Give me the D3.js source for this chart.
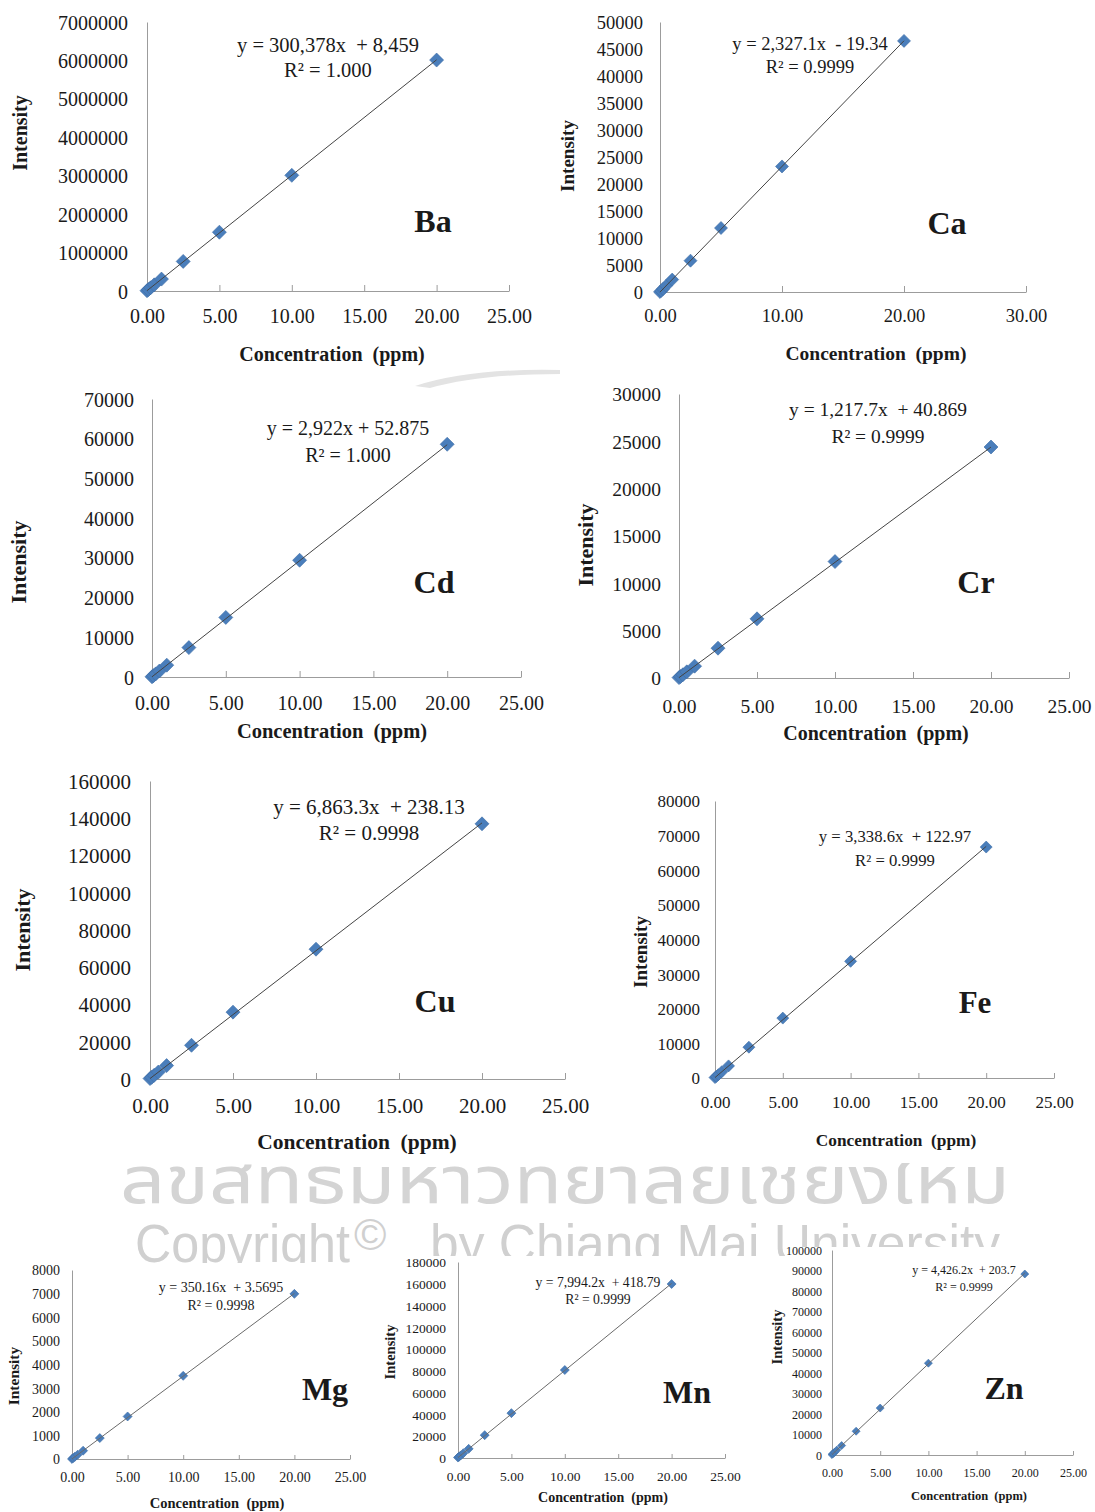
<!DOCTYPE html>
<html><head><meta charset="utf-8">
<script src="https://cdn.jsdelivr.net/npm/d3@7"></script>
<style>
body{margin:0;background:#fff}
svg{display:block}
.chart text{font-family:"Liberation Serif","Times New Roman",serif;fill:#1a1a1a}
</style>
</head><body>
<svg id="c" width="1095" height="1512"></svg>
<script>
// ---------- data ----------
const elements = ["Ba","Ca","Cd","Cr","Cu","Fe","Mg","Mn","Zn"];
const concentrations = [0, 0.1, 0.25, 0.5, 1, 2.5, 5, 10, 20];
const intensityBa = [8000, 38000, 84000, 160000, 310000, 770000, 1530000, 3010000, 6010000];
const intensityCa = [0, 220, 560, 1150, 2300, 5800, 11850, 23250, 46500];
const intensityCd = [50, 340, 780, 1500, 2980, 7400, 15000, 29400, 58600];
const intensityCr = [40, 160, 340, 650, 1250, 3150, 6250, 12300, 24400];
const intensityCu = [240, 900, 1950, 3700, 7200, 18100, 35900, 69700, 137000];
const intensityFe = [120, 450, 960, 1800, 3500, 8900, 17300, 33700, 66700];
const intensityMg = [3, 38, 90, 178, 352, 885, 1800, 3520, 6990];
const intensityMn = [420, 1200, 2400, 4400, 8400, 21000, 41200, 80800, 159800];
const intensityZn = [200, 650, 1300, 2400, 4600, 11600, 22900, 44800, 88300];
const intensities = [intensityBa, intensityCa, intensityCd, intensityCr, intensityCu, intensityFe, intensityMg, intensityMn, intensityZn];
const slopes = [300378, 2327.1, 2922, 1217.7, 6863.3, 3338.6, 350.16, 7994.2, 4426.2];
const intercepts = [8459, -19.34, 52.875, 40.869, 238.13, 122.97, 3.5695, 418.79, 203.7];
const equationLabels = ["y = 300,378x  + 8,459", "y = 2,327.1x  - 19.34", "y = 2,922x + 52.875", "y = 1,217.7x  + 40.869",
  "y = 6,863.3x  + 238.13", "y = 3,338.6x  + 122.97", "y = 350.16x  + 3.5695", "y = 7,994.2x  + 418.79", "y = 4,426.2x  + 203.7"];
const r2Labels = ["R² = 1.000", "R² = 0.9999", "R² = 1.000", "R² = 0.9999", "R² = 0.9998", "R² = 0.9999", "R² = 0.9998", "R² = 0.9999", "R² = 0.9999"];
const yMaxes = [7000000, 50000, 70000, 30000, 160000, 80000, 8000, 180000, 100000];
const yTickSteps = [1000000, 5000, 10000, 5000, 20000, 10000, 1000, 20000, 10000];
const xMaxes = [25, 30, 25, 25, 25, 25, 25, 25, 25];
const xTickSteps = [5, 10, 5, 5, 5, 5, 5, 5, 5];
const fitXEnd = 20;
const xTitle = "Concentration  (ppm)";
const yTitle = "Intensity";
const watermarkThai = "ลิขสิทธิ์มหาวิทยาลัยเชียงใหม่";
const watermarkEn1 = "Copyright";
const watermarkEn2 = "©";
const watermarkEn3 = "by Chiang Mai University";

// ---------- layout (pixels / styles) ----------
const layout = [
 {ax:147, ax1:509, yTop:22,   yBot:291,  tick:20,   title:20,   ytf:20,   eq:20.5, lab:32, ms:14, tx:25, ty:19, xt:[332,354],  yt:[20,133],  eqp:[328,45,70],    lp:[433,221],  tk:6},
 {ax:660, ax1:1026,yTop:22,   yBot:292,  tick:18.5, title:19.5, ytf:19,   eq:18.5, lab:32, ms:13, tx:24, ty:17, xt:[876,353],  yt:[567,156], eqp:[810,44,67],    lp:[947,223],  tk:6},
 {ax:152, ax1:521, yTop:399,  yBot:677,  tick:20,   title:20.5, ytf:22,   eq:20,   lab:32, ms:14, tx:26, ty:18, xt:[332,731],  yt:[18,562],  eqp:[348,428,455],  lp:[434,582],  tk:6},
 {ax:679, ax1:1069,yTop:394,  yBot:678,  tick:19.5, title:20,   ytf:22,   eq:19.5, lab:32, ms:14, tx:28, ty:18, xt:[876,733],  yt:[585,545], eqp:[878,409,436],  lp:[976,582],  tk:6},
 {ax:150, ax1:565, yTop:781,  yBot:1079, tick:21,   title:21.5, ytf:22,   eq:21,   lab:32, ms:14, tx:27, ty:19, xt:[357,1141], yt:[22,930],  eqp:[369,807,833],  lp:[435,1001], tk:6},
 {ax:715, ax1:1054,yTop:801,  yBot:1078, tick:17,   title:17.3, ytf:19,   eq:16.7, lab:31, ms:12, tx:24, ty:15, xt:[896,1140], yt:[640,952], eqp:[895,836,860],  lp:[975,1002], tk:5},
 {ax:72,  ax1:350, yTop:1270, yBot:1459, tick:14,   title:14.5, ytf:15.5, eq:14,   lab:32, ms:9,  tx:18, ty:12, xt:[217,1503], yt:[14,1376], eqp:[221,1287,1305],lp:[325,1389], tk:4},
 {ax:458, ax1:725, yTop:1262, yBot:1458, tick:13.5, title:14,   ytf:14.5, eq:13.7, lab:32, ms:9,  tx:18, ty:12, xt:[603,1497], yt:[390,1352], eqp:[598,1282,1299],lp:[687,1392], tk:4},
 {ax:832, ax1:1073,yTop:1250, yBot:1455, tick:12,   title:12.5, ytf:14.5, eq:12,   lab:32, ms:8,  tx:18, ty:10, xt:[969,1496], yt:[777,1337], eqp:[964,1270,1287],lp:[1004,1388],tk:4}
];
const markerColor = "#4a7ebb";
const axisColor = "#9c9c9c";

const svg = d3.select("#c");

// ---------- watermark ----------
const wm = svg.append("g");
wm.append("text").attr("x",120).attr("y",1203)
  .attr("textLength",890).attr("lengthAdjust","spacingAndGlyphs")
  .style("font-family","'Noto Sans Thai','Noto Sans','DejaVu Sans',sans-serif")
  .style("font-size","66px").style("fill","#d4d4d4").text(watermarkThai);
wm.append("rect").attr("x",0).attr("y",0).attr("width",1095).attr("height",1163).attr("fill","#fff");
const wf = "'Liberation Sans Narrow','Liberation Sans',Arial,sans-serif";
wm.append("text").attr("x",135).attr("y",1262).attr("textLength",215).attr("lengthAdjust","spacingAndGlyphs")
  .style("font-family",wf).style("font-size","54px").style("fill","#d0d0d0").text(watermarkEn1);
wm.append("text").attr("x",354).attr("y",1250)
  .style("font-family",wf).style("font-size","44px").style("fill","#d0d0d0").text(watermarkEn2);
wm.append("text").attr("x",430).attr("y",1262).attr("textLength",570).attr("lengthAdjust","spacingAndGlyphs")
  .style("font-family",wf).style("font-size","54px").style("fill","#d0d0d0").text(watermarkEn3);
// faint emblem remnants
wm.append("path").attr("d","M415,386 Q470,368 560,370 L560,374 Q480,374 430,388 Z").attr("fill","#e3e3e3");
// panels covering the watermark
wm.append("rect").attr("x",0).attr("y",1263).attr("width",372).attr("height",249).attr("fill","#fff");
wm.append("rect").attr("x",372).attr("y",1256).attr("width",413).attr("height",256).attr("fill","#fff");
wm.append("rect").attr("x",785).attr("y",1247).attr("width",310).attr("height",265).attr("fill","#fff");

// ---------- charts ----------
elements.forEach((el, i) => {
  const L = layout[i];
  const g = svg.append("g").attr("class","chart");
  const x = d3.scaleLinear().domain([0, xMaxes[i]]).range([L.ax, L.ax1]);
  const y = d3.scaleLinear().domain([0, yMaxes[i]]).range([L.yBot, L.yTop]);

  const xTicks = d3.range(0, xMaxes[i] + xTickSteps[i]/2, xTickSteps[i]);
  const yTicks = d3.range(0, yMaxes[i] + yTickSteps[i]/2, yTickSteps[i]);

  const gx = g.append("g").attr("transform",`translate(0,${L.yBot})`)
    .call(d3.axisBottom(x).tickValues(xTicks).tickSizeInner(-L.tk).tickSizeOuter(0).tickFormat(d3.format(".2f")));
  gx.select(".domain").attr("stroke",axisColor);
  gx.selectAll(".tick line").attr("stroke",axisColor).filter(d => d === 0).remove();
  gx.selectAll(".tick text").attr("y",L.tx).attr("dy","0.35em")
    .style("font-size",L.tick+"px").style("font-family","'Liberation Serif',serif").attr("fill","#1a1a1a");

  const gy = g.append("g").attr("transform",`translate(${L.ax},0)`)
    .call(d3.axisLeft(y).tickValues(yTicks).tickSize(0).tickFormat(d3.format("d")));
  gy.select(".domain").attr("stroke",axisColor);
  gy.selectAll(".tick text").attr("x",-L.ty).attr("dy","0.35em")
    .style("font-size",L.tick+"px").style("font-family","'Liberation Serif',serif").attr("fill","#1a1a1a");

  // markers
  const pts = concentrations.map((c, k) => [c, intensities[i][k]]);
  const sym = d3.symbol().type(d3.symbolSquare).size(L.ms * L.ms / 2);
  g.selectAll("path.pt").data(pts).join("path").attr("class","pt")
    .attr("d", sym)
    .attr("transform", d => `translate(${x(d[0])},${y(d[1])}) rotate(45)`)
    .attr("fill", markerColor).attr("stroke","#3f6fa8").attr("stroke-width",0.6);

  // trendline
  const fit = [0, fitXEnd].map(c => [c, slopes[i]*c + intercepts[i]]);
  g.append("path").datum(fit)
    .attr("d", d3.line().x(d => x(d[0])).y(d => y(d[1])))
    .attr("fill","none").attr("stroke", i >= 6 ? "#6a6a6a" : "#444").attr("stroke-width",1);

  // equation
  g.append("text").attr("x",L.eqp[0]).attr("y",L.eqp[1]).attr("dy","0.35em")
    .attr("text-anchor","middle").style("white-space","pre").style("font-size",L.eq+"px").text(equationLabels[i]);
  g.append("text").attr("x",L.eqp[0]).attr("y",L.eqp[2]).attr("dy","0.35em")
    .attr("text-anchor","middle").style("white-space","pre").style("font-size",L.eq+"px").text(r2Labels[i]);

  // element label
  g.append("text").attr("x",L.lp[0]).attr("y",L.lp[1]).attr("dy","0.35em")
    .attr("text-anchor","middle").style("font-weight","bold").style("font-size",L.lab+"px").attr("fill","#000").text(el);

  // axis titles
  g.append("text").attr("x",L.xt[0]).attr("y",L.xt[1]).attr("dy","0.35em")
    .attr("text-anchor","middle").style("white-space","pre").style("font-weight","bold").style("font-size",L.title+"px").text(xTitle);
  g.append("text").attr("transform",`translate(${L.yt[0]},${L.yt[1]}) rotate(-90)`).attr("dy","0.35em")
    .attr("text-anchor","middle").style("font-weight","bold").style("font-size",L.ytf+"px").text(yTitle);
});
</script>
</body></html>
